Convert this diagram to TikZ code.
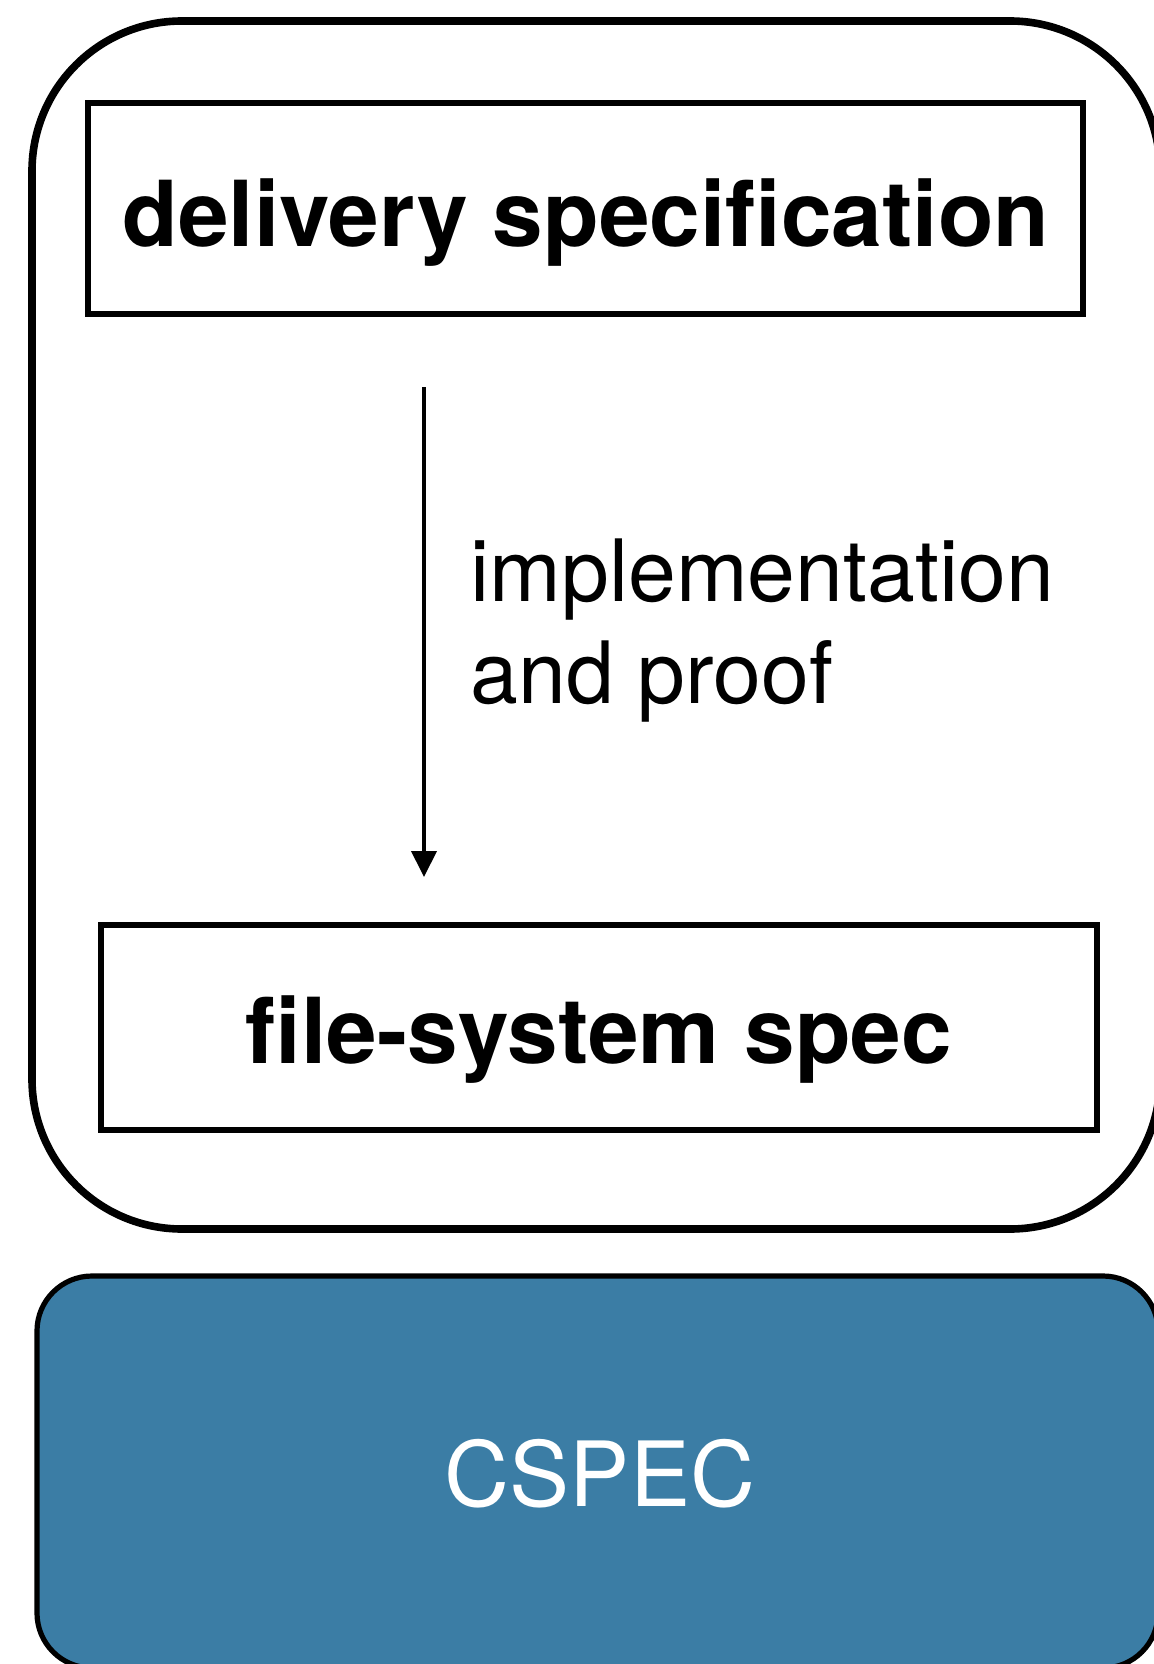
\documentclass[tikz,border=0pt]{standalone}
\usepackage{fontspec}
\setmainfont{TeX Gyre Heros}
\usetikzlibrary{arrows.meta}
\definecolor{cspecblue}{RGB}{59,125,165}
\begin{document}
\begin{tikzpicture}[x=0.5pt,y=-0.5pt]
	\tikzstyle{every node}+=[inner sep=0pt]
	\tikzstyle{specbox}=[draw=black, line width=2.6pt, rectangle]
	\tikzstyle{bigtxt}=[anchor=base, font=\fontsize{45.5}{56}\selectfont\bfseries]
	\useasboundingbox (0,0) rectangle (1154,1664);
	\clip (0,0) rectangle (1154,1664);
	\node [draw=black, line width=3.8pt, rounded corners=75pt, minimum width=564pt, minimum height=604pt] (outer) at (596,625) {};
	\node [draw=black, fill=cspecblue, line width=2.6pt, rounded corners=27.5pt, minimum width=560.5pt, minimum height=196pt] (cspec) at (597.5,1472) {};
	\node [specbox, minimum width=497.5pt, minimum height=105.5pt] (deliv) at (585.5,208.5) {};
	\node [specbox, minimum width=498pt, minimum height=102.5pt] (fsspec) at (599,1027.5) {};
	\node [bigtxt] (delivtxt) at (586,247) {delivery specification};
	\node [bigtxt] (fsspectxt) at (599,1063) {file-system spec};
	\node [anchor=base, text=white, font=\fontsize{45}{54}\selectfont] (cspectxt) at (600,1506) {CSPEC};
	\coordinate (atop) at (424,387);
	\coordinate (abot) at (424,877);
	\draw [black, line width=2pt, -{Triangle[width=12.5pt,length=13pt]}] (atop) -- (abot);
	\node [anchor=base west, align=left, font=\fontsize{43}{51}\selectfont] (impl) at (470,703) {implementation\\and proof};
\end{tikzpicture}
\end{document}
